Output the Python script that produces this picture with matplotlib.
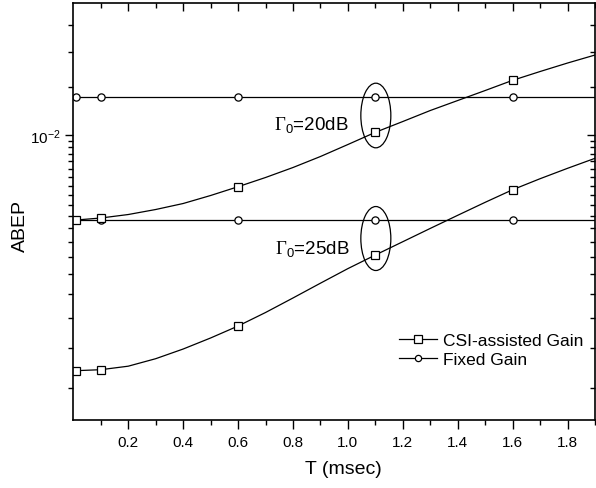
import numpy as np
import matplotlib
matplotlib.use("Agg")
import matplotlib.pyplot as plt
from matplotlib.patches import Ellipse
from matplotlib.ticker import FixedLocator, NullFormatter, FixedFormatter

plt.rcParams['font.family'] = ['Liberation Sans', 'DejaVu Sans']
plt.rcParams['mathtext.fontset'] = 'custom'
plt.rcParams['mathtext.rm'] = 'Liberation Serif'
plt.rcParams['mathtext.sf'] = 'Liberation Sans'

# ---- data ----
T = [0.01, 0.1, 0.2, 0.3, 0.4, 0.5, 0.6, 0.7, 0.8, 0.9, 1.0,
     1.1, 1.2, 1.3, 1.4, 1.5, 1.6, 1.7, 1.8, 1.9]
marker_idx = [0, 1, 6, 11, 16]          # T = 0.01, 0.1, 0.6, 1.1, 1.6

fixed_20 = 13.78e-3
fixed_25 = 4.834e-3

csi_20 = [4.834e-3, 4.919e-3, 5.070e-3, 5.295e-3, 5.576e-3, 5.974e-3, 6.442e-3,
          6.969e-3, 7.588e-3, 8.331e-3, 9.221e-3, 10.220e-3, 11.192e-3, 12.274e-3,
          13.346e-3, 14.509e-3, 15.797e-3, 16.999e-3, 18.244e-3, 19.498e-3]
csi_25 = [1.197e-3, 1.209e-3, 1.253e-3, 1.351e-3, 1.487e-3, 1.656e-3, 1.857e-3,
          2.109e-3, 2.413e-3, 2.762e-3, 3.150e-3, 3.556e-3, 3.999e-3, 4.493e-3,
          5.036e-3, 5.634e-3, 6.278e-3, 6.898e-3, 7.537e-3, 8.205e-3]

x_major = [0.2, 0.4, 0.6, 0.8, 1.0, 1.2, 1.4, 1.6, 1.8]
x_labels = ['0.2', '0.4', '0.6', '0.8', '1.0', '1.2', '1.4', '1.6', '1.8']
x_minor = [0.1, 0.3, 0.5, 0.7, 0.9, 1.1, 1.3, 1.5, 1.7, 1.9]
y_major = [1e-2]
y_labels = [r'$\mathsf{10^{-2}}$']
y_minor = [k * 0.5e-3 for k in range(2, 20)] + [1.5e-2, 2.0e-2, 2.5e-2]

# ---- figure ----
W, H = 596, 489
L, R, TOP, BOT = 73.3, 595, 4, 421
rect = [L/W, 1-BOT/H, (R-L)/W, (BOT-TOP)/H]
fig = plt.figure(figsize=(W/100, H/100), dpi=100)
ax = fig.add_axes(rect)

c = 0.3e-3
def fwd(v):
    return np.log10(np.clip(np.asarray(v, float) + c, 1e-12, None) * 1e3)
def inv(y):
    return 10**np.asarray(y, float) / 1e3 - c

def setup(a):
    a.set_yscale('function', functions=(fwd, inv))
    a.set_xlim(0, 1.9)
    a.set_ylim(0.7e-3, 3.0e-2)

setup(ax)

lw = 0.9
Tm = [T[i] for i in marker_idx]
ax.plot([0, 1.9], [fixed_20, fixed_20], color='black', lw=lw)
ax.plot([0, 1.9], [fixed_25, fixed_25], color='black', lw=lw)
ax.plot(Tm, [fixed_20]*len(Tm), 'o', ms=5.2, mfc='white', mec='black', mew=0.9)
ax.plot(Tm, [fixed_25]*len(Tm), 'o', ms=5.2, mfc='white', mec='black', mew=0.9)

ax.plot(T, csi_20, color='black', lw=lw)
ax.plot(T, csi_25, color='black', lw=lw)
ax.plot(Tm, [csi_20[i] for i in marker_idx], 's', ms=6, mfc='white', mec='black', mew=0.9)
ax.plot(Tm, [csi_25[i] for i in marker_idx], 's', ms=6, mfc='white', mec='black', mew=0.9)

# legend
ax.plot([], [], 's-', color='black', lw=lw, ms=6, mfc='white', mec='black', mew=0.9, label='CSI-assisted Gain')
ax.plot([], [], 'o-', color='black', lw=lw, ms=4.5, mfc='white', mec='black', mew=0.9, label='Fixed Gain')
ax.legend(loc='center left', bbox_to_anchor=((399-L)/(R-L), (BOT-351)/(BOT-TOP)),
          frameon=False, fontsize=12.5, borderpad=0, borderaxespad=0,
          handlelength=2.2, handletextpad=0.35, labelspacing=0.2)

# ellipses around the T=1.1 marker pairs (pixel-space ellipses)
fig.canvas.draw()
def pix(x, y):
    return ax.transData.transform((x, y))
for v_top, v_bot in [(fixed_20, csi_20[11]), (fixed_25, csi_25[11])]:
    p1 = pix(1.1, v_top); p2 = pix(1.1, v_bot)
    cx, cy = p1[0] + 0.5, (p1[1] + p2[1]) / 2 - 1
    h = abs(p1[1] - p2[1]) + 29
    ctr = ax.transAxes.inverted().transform((cx, cy))
    ax.add_patch(Ellipse(ctr, width=30/(R-L), height=h/(BOT-TOP), fill=False,
                         lw=0.9, color='black', transform=ax.transAxes))

ax.text((349-L)/(R-L), (BOT-131)/(BOT-TOP), r'$\Gamma_{\mathsf{0}}$=20dB',
        transform=ax.transAxes, ha='right', va='baseline', fontsize=13.5)
ax.text((350-L)/(R-L), (BOT-255)/(BOT-TOP), r'$\Gamma_{\mathsf{0}}$=25dB',
        transform=ax.transAxes, ha='right', va='baseline', fontsize=13.5)

ax.xaxis.set_major_locator(FixedLocator(x_major))
ax.xaxis.set_major_formatter(FixedFormatter(x_labels))
ax.xaxis.set_minor_locator(FixedLocator(x_minor))
ax.yaxis.set_major_locator(FixedLocator(y_major))
ax.yaxis.set_major_formatter(FixedFormatter(y_labels))
ax.yaxis.set_minor_locator(FixedLocator(y_minor))
ax.yaxis.set_minor_formatter(NullFormatter())

ax.tick_params(axis='x', which='major', direction='out', length=6.5, width=1.0, labelsize=11, pad=4)
ax.tick_params(axis='x', which='minor', direction='out', length=3.6, width=1.0)
ax.tick_params(axis='y', which='major', direction='out', length=6, width=1.0, labelsize=11, pad=3)
ax.tick_params(axis='y', which='minor', direction='out', length=3.3, width=1.0)
for s in ax.spines.values():
    s.set_linewidth(1.2)

# mirrored inward ticks on top and right
ax2 = fig.add_axes(rect, frameon=False)
setup(ax2)
ax2.patch.set_visible(False)
ax2.xaxis.set_major_locator(FixedLocator(x_major))
ax2.xaxis.set_minor_locator(FixedLocator(x_minor))
ax2.yaxis.set_major_locator(FixedLocator(y_major))
ax2.yaxis.set_minor_locator(FixedLocator(y_minor))
ax2.xaxis.set_major_formatter(NullFormatter())
ax2.yaxis.set_major_formatter(NullFormatter())
ax2.yaxis.set_minor_formatter(NullFormatter())
ax2.tick_params(which='both', direction='in', bottom=False, left=False, top=True, right=True,
                labelbottom=False, labelleft=False, width=1.0)
ax2.tick_params(which='major', length=6)
ax2.tick_params(which='minor', length=3.5)

ax.set_xlabel('T (msec)', fontsize=14)
ax.xaxis.set_label_coords((343-L)/(R-L), -(470-BOT)/(BOT-TOP))
ax.set_ylabel('ABEP', fontsize=14)
ax.yaxis.set_label_coords(-(L-20)/(R-L), (BOT-226)/(BOT-TOP))
ax.xaxis.label.set_va('center')
ax.yaxis.label.set_va('center')

fig.savefig('out.png', dpi=100)
